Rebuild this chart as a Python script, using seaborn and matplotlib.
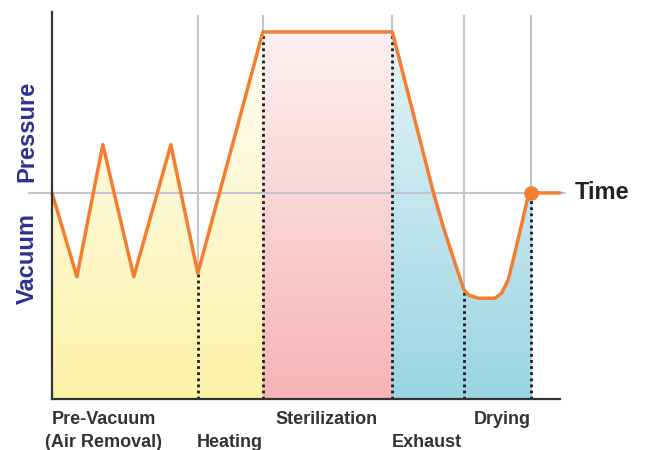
# Sterilization cycle chart
#
# python plot.py

import matplotlib.pyplot as plt
import numpy as np
import seaborn as sns
from matplotlib.patches import Polygon


# chamber pressure over one cycle (time in arbitrary units, 0 = atmospheric)
time = [0.0, 4.9, 10.0, 16.1, 23.4, 28.7, 41.5, 67.0, 75.1, 77.0, 78.7,
        80.0, 81.1, 82.0, 83.9, 87.2, 88.5, 89.8, 91.1, 92.5, 93.8, 94.3, 100.0]
pressure = [0, -52, 30, -52, 30, -50, 100, 100, 0, -20.9, -37.5,
            -49.9, -60.2, -63.4, -65.4, -65.4, -62.3, -54.0, -37.5, -18.8, -1.2, 0, 0]

# phase boundaries
boundaries = [28.7, 41.5, 67.0, 81.1, 94.3]

# coloured regions under the curve
region_start = [0.0, 41.5, 67.0]
region_end = [41.5, 67.0, 94.3]
region_top = ["#fffef6", "#fdf1f1", "#e6f4f8"]
region_bottom = ["#fcf2a8", "#f6b4b6", "#9ad5e3"]

# phase labels under the axis
phase_names = ["Pre-Vacuum", "(Air Removal)", "Heating", "Sterilization", "Exhaust", "Drying"]
phase_x = [10.2, 10.2, 35.0, 54.0, 73.8, 88.6]
phase_row = [0, 1, 1, 0, 1, 0]

end_point = (94.3, 0)

ORANGE = "#f47d30"
GRAY = "#c4c4cc"
NAVY = "#2e3192"
YMIN, YMAX = -128, 112.4

sns.set_style("white")
plt.rcParams["font.family"] = ["Liberation Sans", "DejaVu Sans"]

fig = plt.figure(figsize=(6.46, 4.5), dpi=100)
ax = fig.add_axes([52 / 646, 51 / 450, 508 / 646, 387 / 450])

t = np.array(time)
p = np.array(pressure)

# gradient fills clipped to the area under the curve
for x0, x1, c_top, c_bot in zip(region_start, region_end, region_top, region_bottom):
    mask = (t >= x0) & (t <= x1)
    verts = [(x0, YMIN)] + list(zip(t[mask], p[mask])) + [(x1, YMIN)]
    patch = Polygon(verts, closed=True, facecolor="none", edgecolor="none")
    ax.add_patch(patch)
    top = np.array(plt.matplotlib.colors.to_rgb(c_top))
    bot = np.array(plt.matplotlib.colors.to_rgb(c_bot))
    frac = np.linspace(0, 1, 256)[:, None, None]
    grad = bot + (top - bot) * frac
    img = ax.imshow(grad, extent=[x0, x1, YMIN, 100], origin="lower",
                    aspect="auto", zorder=1, interpolation="bilinear")
    img.set_clip_path(patch)

# gray guide lines
ax.vlines(boundaries, YMIN, 110.6, color=GRAY, lw=1.5, zorder=0.5, clip_on=False)
ax.plot([-4.5, 101], [0, 0], color=GRAY, lw=1.5, zorder=2, clip_on=False)

# dotted phase separators
ax.vlines(boundaries, YMIN, np.interp(boundaries, t, p), color="#1a1a1a",
          lw=2.0, linestyles=(0, (1, 1.2)), zorder=3)

sns.lineplot(x=time, y=pressure, sort=False, color=ORANGE, lw=2.5, ax=ax,
             zorder=4, clip_on=False, solid_joinstyle="round")
ax.plot(*end_point, "o", color=ORANGE, ms=9.5, zorder=5, clip_on=False)

ax.set_xlim(0, 100)
ax.set_ylim(YMIN, YMAX)
ax.set_xticks([])
ax.set_yticks([])
for side in ["top", "right"]:
    ax.spines[side].set_visible(False)
for side in ["left", "bottom"]:
    ax.spines[side].set_color("#333333")
    ax.spines[side].set_linewidth(1.6)
    ax.spines[side].set_zorder(6)

ax.text(103, 0, "Time", fontsize=17, fontweight="bold", color="#222222",
        ha="left", va="center", clip_on=False)

for name, x, row in zip(phase_names, phase_x, phase_row):
    ax.annotate(name, xy=(x, YMIN), xytext=(0, -15 - 16 * row),
                textcoords="offset points", ha="center", va="center",
                fontsize=13, fontweight="bold", color="#333333",
                annotation_clip=False)

fig.text(27 / 646, 1 - 131 / 450, "Pressure", rotation=90, fontsize=17,
         fontweight="bold", color=NAVY, ha="center", va="center")
fig.text(27 / 646, 1 - 258 / 450, "Vacuum", rotation=90, fontsize=17,
         fontweight="bold", color=NAVY, ha="center", va="center")

plt.savefig("out.png", dpi=100)
